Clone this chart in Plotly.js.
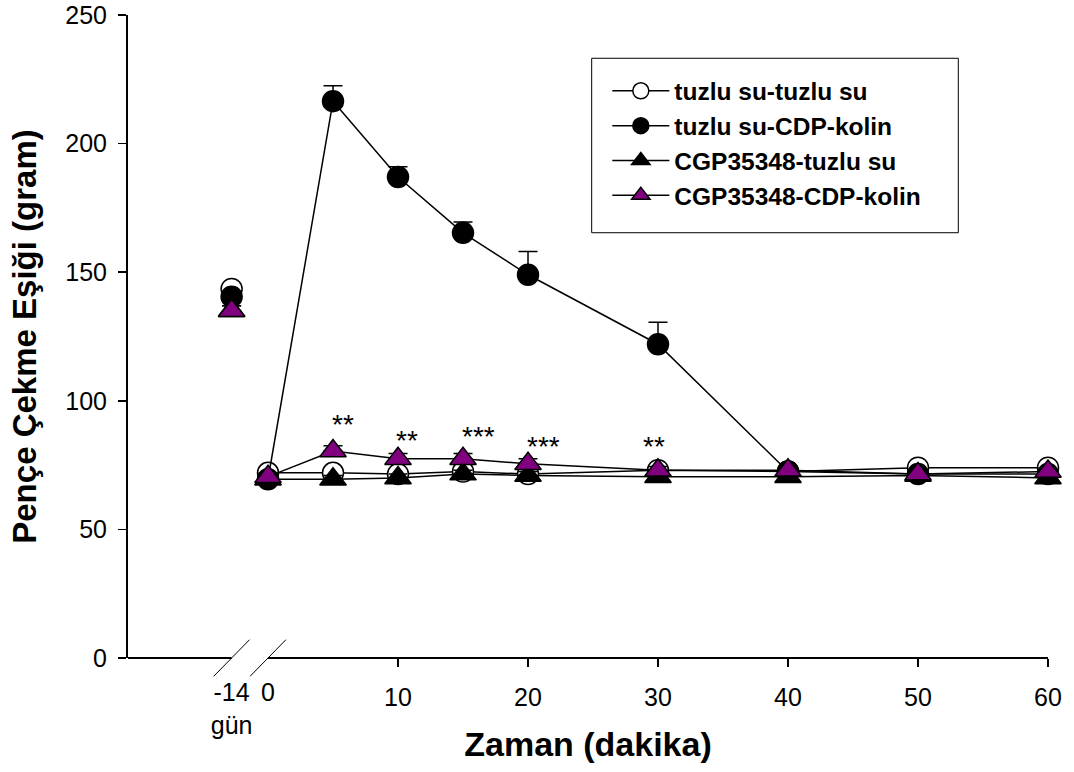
<!DOCTYPE html>
<html>
<head>
<meta charset="utf-8">
<script src="https://cdn.plot.ly/plotly-3.0.1.min.js"></script>
<style>html,body{margin:0;padding:0;background:#fff;}#chart{width:1074px;height:772px;}</style>
</head>
<body>
<div id="chart"></div>
<script>
// Display positions on the x axis: the first point is "-14 gün" (before the axis break)
const timePos = [-2.8, 0, 5, 10, 15, 20, 30, 40, 50, 60];
const tickVals = [10, 20, 30, 40, 50, 60];
const tickText = ['10', '20', '30', '40', '50', '60'];
const preTickVals = [-2.8, 0];
const preTickText = ['-14<br>gün', '0'];
const yTickVals = [0, 50, 100, 150, 200, 250];

const seriesNames = ['tuzlu su-tuzlu su', 'tuzlu su-CDP-kolin', 'CGP35348-tuzlu su', 'CGP35348-CDP-kolin'];
const salineSaline = [143.5, 72, 72, 71.5, 72.5, 71.5, 73, 72.5, 74, 74];
const salineCDP    = [140.5, 69.5, 216.5, 187, 165.3, 149, 122, 72.5, 71.5, 71.5];
const cgpSaline    = [135, 69.5, 69.5, 70, 71.5, 71, 70.5, 70.5, 71, 70];
const cgpCDP       = [135, 70.5, 80.5, 77.5, 77.5, 75.5, 73, 73, 71.5, 72.5];

const errSalineSaline = [2, 1.5, 1.5, 1.5, 1.5, 1.5, 1.5, 1.5, 1.5, 1.5];
const errSalineCDP    = [2, 1.5, 6, 4, 4.2, 9, 8.5, 1.5, 1.5, 1.5];
const errCgpSaline    = [2, 1.5, 1.5, 1.5, 1.5, 1.5, 1.5, 1.5, 1.5, 1.5];
const errCgpCDP       = [2, 1.5, 2, 2, 2, 2, 1.5, 1.5, 1.5, 1.5];

// significance labels (above CGP35348-CDP-kolin points)
const sigX = [5.77, 10.69, 16.2, 21.17, 29.7];
const sigY = [90.9, 84.7, 86.1, 82.1, 82.2];
const sigText = ['**', '**', '***', '***', '**'];

const FONT = 'Liberation Sans, Arial, Helvetica, sans-serif';
const PURPLE = '#800080';

// break the line between the "-14 gün" point and the 0 point
function withGap(arr) { return [arr[0], null].concat(arr.slice(1)); }

const styles = [
  {symbol: 'circle', color: '#ffffff', size: 21},
  {symbol: 'circle', color: '#000000', size: 21},
  {symbol: 'triangle-up', color: '#000000', size: 23},
  {symbol: 'triangle-up', color: PURPLE, size: 23}
];
const values = [salineSaline, salineCDP, cgpSaline, cgpCDP];
const errs = [errSalineSaline, errSalineCDP, errCgpSaline, errCgpCDP];

const traces = values.map((v, i) => ({
  type: 'scatter',
  mode: 'lines+markers',
  name: seriesNames[i],
  x: withGap(timePos),
  y: withGap(v),
  connectgaps: false,
  cliponaxis: false,
  line: {color: '#000', width: 1.5},
  marker: {symbol: styles[i].symbol, color: styles[i].color, size: styles[i].size,
           line: {color: '#000', width: 1.5}},
  error_y: {type: 'data', symmetric: false, array: withGap(errs[i]), arrayminus: withGap(errs[i].map(() => 0)),
            color: '#000', thickness: 1.5, width: 9.5}
}));
// invisible helper trace so that the secondary x axis (labels before the break) is drawn
traces.push({type: 'scatter', mode: 'markers', x: preTickVals, y: [null, null], xaxis: 'x2', yaxis: 'y',
             showlegend: false, hoverinfo: 'skip', marker: {opacity: 0}});

const xRange = [-10.77, 60];
const breakHalfX = 1.38;
const breakHalfY = 0.0285;

const shapes = [
  {type: 'line', xref: 'x', yref: 'paper', x0: xRange[0], x1: preTickVals[0], y0: 0, y1: 0, line: {color: '#000', width: 2}},
  {type: 'line', xref: 'x', yref: 'paper', x0: preTickVals[1], x1: xRange[1], y0: 0, y1: 0, line: {color: '#000', width: 2}},
  {type: 'line', xref: 'x', yref: 'paper', x0: preTickVals[0] - breakHalfX, x1: preTickVals[0] + breakHalfX, y0: -breakHalfY, y1: breakHalfY, line: {color: '#000', width: 1}},
  {type: 'line', xref: 'x', yref: 'paper', x0: preTickVals[1] - breakHalfX, x1: preTickVals[1] + breakHalfX, y0: -breakHalfY, y1: breakHalfY, line: {color: '#000', width: 1}},
  {type: 'rect', xref: 'paper', yref: 'paper', x0: 0.504, x1: 0.9025, y0: 0.6614, y1: 0.9327,
   line: {color: '#000', width: 1}, fillcolor: '#fff', layer: 'above'}
];

const annotations = sigX.map((x, i) => ({
  x: x, y: sigY[i], xref: 'x', yref: 'y', text: sigText[i], showarrow: false,
  xanchor: 'center', yanchor: 'middle', font: {family: FONT, size: 28, color: '#000'}
}));

const tickFont = {family: FONT, size: 25, color: '#000'};

const layout = {
  width: 1074, height: 772,
  margin: {l: 128, r: 26, t: 15, b: 114, pad: 0},
  paper_bgcolor: '#fff', plot_bgcolor: '#fff',
  showlegend: true,
  font: {family: FONT, color: '#000'},
  xaxis: {
    range: xRange, showgrid: false, zeroline: false, showline: false,
    tickmode: 'array', tickvals: tickVals, ticktext: tickText,
    ticks: 'outside', ticklen: 8, tickwidth: 1.5, tickcolor: '#000',
    tickfont: tickFont, ticklabelstandoff: 9,
    title: {text: '<b>Zaman (dakika)</b>', font: {family: FONT, size: 34, color: '#000'}, standoff: 22},
    automargin: false
  },
  xaxis2: {
    overlaying: 'x', anchor: 'y', side: 'bottom',
    range: xRange, showgrid: false, zeroline: false, showline: false,
    tickmode: 'array', tickvals: preTickVals, ticktext: preTickText,
    ticks: '', tickfont: tickFont, ticklabelstandoff: 17,
    automargin: false
  },
  yaxis: {
    range: [0, 250], showgrid: false, zeroline: false,
    showline: true, linecolor: '#000', linewidth: 2,
    tickmode: 'array', tickvals: yTickVals,
    ticks: 'outside', ticklen: 8, tickwidth: 1.5, tickcolor: '#000',
    tickfont: tickFont, ticklabelstandoff: 6,
    title: {text: '<b>Pençe Çekme Eşiği (gram)</b>', font: {family: FONT, size: 33, color: '#000'}, standoff: 19},
    automargin: false
  },
  legend: {
    x: 0.521, y: 0.917, xanchor: 'left', yanchor: 'top',
    bgcolor: 'rgba(0,0,0,0)', borderwidth: 0,
    font: {family: FONT, size: 24.5, color: '#000', weight: 'bold'},
    itemwidth: 57, tracegroupgap: 0
  },
  shapes: shapes,
  annotations: annotations
};

Plotly.newPlot('chart', traces, layout, {staticPlot: true, displayModeBar: false});
</script>
</body>
</html>
